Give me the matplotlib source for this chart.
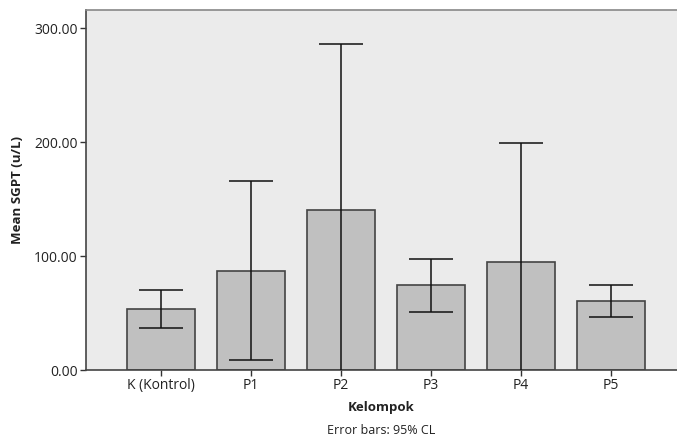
import numpy as np
import matplotlib.pyplot as plt

plt.rcParams['font.family'] = ['Open Sans', 'DejaVu Sans']

groups = ["K (Kontrol)", "P1", "P2", "P3", "P4", "P5"]
means = [53.8, 87.1, 140.0, 74.6, 94.7, 60.5]
ci_low = [37.1, 8.5, -6.0, 51.2, -9.6, 46.8]
ci_high = [69.9, 165.8, 286.2, 97.1, 199.0, 74.6]

fig = plt.figure(figsize=(6.77, 4.42), dpi=100)
ax = fig.add_axes([86 / 677, 72 / 442, 1 - 86 / 677, 360 / 442])
ax.set_facecolor("#ebebeb")

x = np.arange(len(groups))
m = np.array(means)
yerr = [m - np.array(ci_low), np.array(ci_high) - m]
ax.bar(x, m, width=0.75, color="#c0c0c0", edgecolor="#444444", linewidth=1.2, zorder=2)
ax.errorbar(x, m, yerr=yerr, fmt="none", ecolor="#111111", elinewidth=1.1,
            capsize=16, capthick=1.1, zorder=3)

ax.set_xlim(-0.833, 5.733)
ax.set_ylim(0, 315.8)
ax.set_xticks(x)
ax.set_xticklabels(groups, fontsize=10)
ax.set_yticks([0, 100, 200, 300])
ax.set_yticklabels(["0.00", "100.00", "200.00", "300.00"], fontsize=10)
ax.tick_params(length=4, width=1, colors="#333333", labelcolor="#222222", pad=2)

ax.spines["right"].set_visible(False)
ax.spines["top"].set_color("#888888")
ax.spines["left"].set_color("#444444")
ax.spines["bottom"].set_color("#444444")
for s in ["left", "bottom", "top"]:
    ax.spines[s].set_linewidth(1.2)

ax.set_ylabel("Mean SGPT (u/L)", fontsize=9.5, fontweight="bold", color="#222222", labelpad=7)
fig.text(381 / 677, 1 - 407 / 442, "Kelompok", ha="center", va="center",
         fontsize=9.5, fontweight="bold", color="#222222")
fig.text(381 / 677, 1 - 430 / 442, "Error bars: 95% CL", ha="center", va="center",
         fontsize=9, color="#222222")

fig.savefig("out.png", dpi=100)
